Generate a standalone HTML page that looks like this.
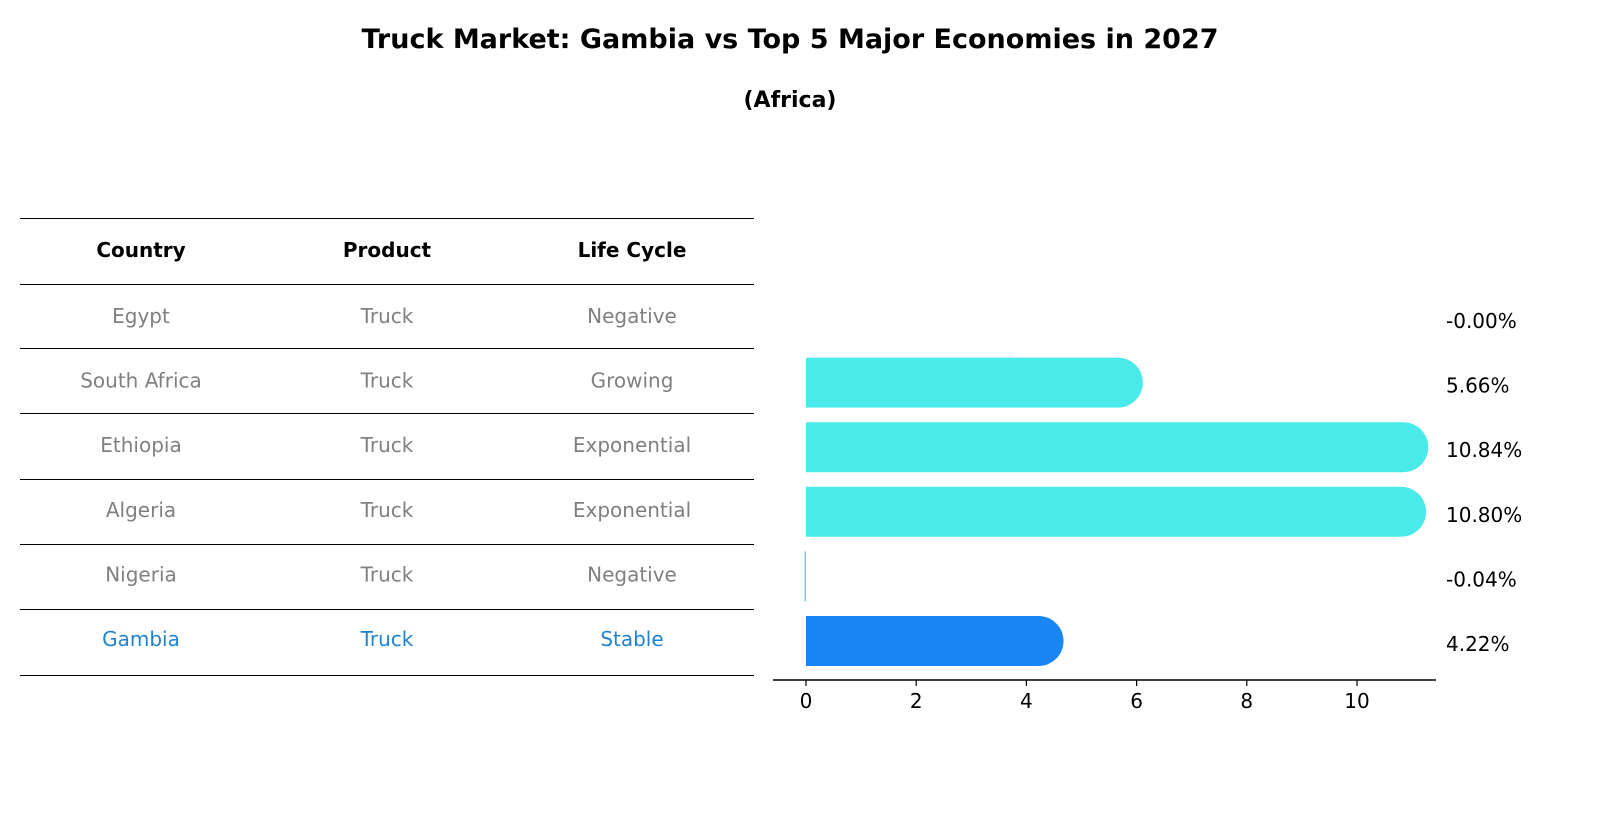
<!DOCTYPE html>
<html><head><meta charset="utf-8"><style>
html,body{margin:0;padding:0;background:#fff;overflow:hidden;width:1604px;height:823px;font-family:"Liberation Sans","DejaVu Sans",sans-serif;}
svg{display:block;}
svg text{font-family:"DejaVu Sans","Liberation Sans",sans-serif;}
</style></head><body>
<svg id="c" width="1604" height="823" viewBox="0 0 1604 823" xmlns="http://www.w3.org/2000/svg">
<text x="790" y="48" text-anchor="middle" font-size="27" font-weight="bold">Truck Market: Gambia vs Top 5 Major Economies in 2027</text>
<text x="790" y="107" text-anchor="middle" font-size="22" font-weight="bold">(Africa)</text>
<g id="table"></g>
<g id="bars"></g>
</svg>
<script>
const countries=["Egypt","South Africa","Ethiopia","Algeria","Nigeria","Gambia"];
const products=["Truck","Truck","Truck","Truck","Truck","Truck"];
const cycles=["Negative","Growing","Exponential","Exponential","Negative","Stable"];
const values=[-0.001,5.66,10.84,10.80,-0.04,4.22];
const valueLabels=["-0.00%","5.66%","10.84%","10.80%","-0.04%","4.22%"];
const ticks=[0,2,4,6,8,10];
const NS="http://www.w3.org/2000/svg";
function mk(t,a,p){const e=document.createElementNS(NS,t);for(const k in a)e.setAttribute(k,a[k]);p.appendChild(e);return e;}
const tb=document.getElementById('table'),bg=document.getElementById('bars');
const lineYs=[218,284,348,413,479,544,609,675];
lineYs.forEach(y=>{const l=mk('line',{x1:20,x2:754,y1:y+0.5,y2:y+0.5,stroke:'#000','stroke-width':1},tb);

});
const cx=[141,387,632];
["Country","Product","Life Cycle"].forEach((h,i)=>{const t=mk('text',{x:cx[i],y:257,'text-anchor':'middle','font-size':20,'font-weight':'bold'},tb);t.textContent=h;

});
const rowY=i=>316+i*64.6;
countries.forEach((c,i)=>{[c,products[i],cycles[i]].forEach((v,j)=>{const t=mk('text',{x:cx[j],y:rowY(i)+7,'text-anchor':'middle','font-size':20,fill:i===5?'#1f84d0':'#808080'},tb);t.textContent=v;

});});
const x0=806,ppu=55.1,xs=v=>x0+v*ppu,bh=50,r=25;
values.forEach((v,i)=>{const y=rowY(i)-bh/2+2;const col=i===5?'#1a86f5':'#4aeaea';
if(v>0.05){const w=xs(v)-x0;const d=`M${x0},${y}H${x0+w}A${r},${r} 0 0 1 ${x0+w},${y+bh}H${x0}Z`;
const p=mk('path',{d:d,fill:col},bg);

}
else if(v<-0.01){const p=mk('rect',{x:x0-1.5,y:y,width:1.5,height:bh,fill:'#7cc8e8'},bg);

}
const t=mk('text',{x:1446,y:rowY(i)+12,'font-size':20},bg);t.textContent=valueLabels[i];

});
const ax=mk('line',{x1:773,x2:1436,y1:680,y2:680,stroke:'#000','stroke-width':1.5},bg);


ticks.forEach(tk=>{const l=mk('line',{x1:xs(tk),x2:xs(tk),y1:680,y2:686,stroke:'#000','stroke-width':1.2},bg);


const t=mk('text',{x:xs(tk),y:708,'text-anchor':'middle','font-size':20},bg);t.textContent=tk;

});
</script>
</body></html>
